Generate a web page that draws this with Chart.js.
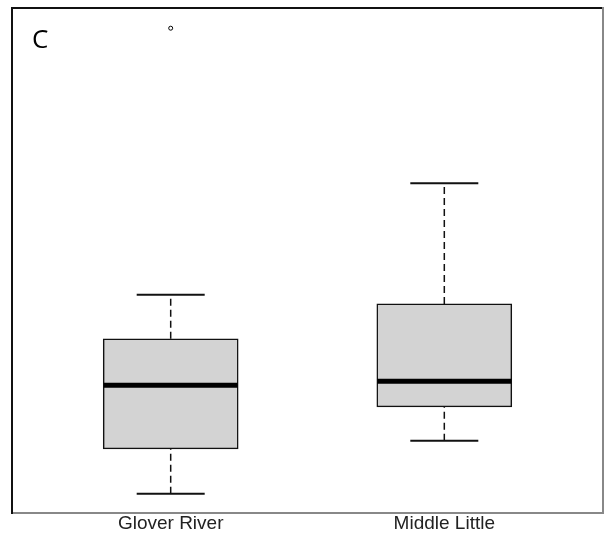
<!DOCTYPE html>
<html>
<head>
<meta charset="utf-8">
<script src="https://cdn.jsdelivr.net/npm/chart.js@4/dist/chart.umd.min.js"></script>
<style>
  html, body { margin: 0; padding: 0; background: #fff; }
  #wrap { width: 604px; height: 534px; }
</style>
</head>
<body>
<div id="wrap"><canvas id="chart"></canvas></div>
<script>
// boxplot stats (arbitrary units, axis labels are not legible)
const groups = ['Glover River', 'Middle Little'];
const positions = [1, 2];
const whiskerLow = [3.8, 14.3];
const q1 = [12.7, 21.0];
const median = [25.3, 26.1];
const q3 = [34.5, 41.4];
const whiskerHigh = [43.2, 65.3];
const outliers = [[96.0], []];

const panelLabel = 'C';

const datasets = [];

// medians (drawn on top)
datasets.push({
  type: 'scatter',
  data: positions.map((x, i) => ({ x, y: median[i] })),
  pointStyle: 'line',
  pointRadius: 67,
  borderColor: '#000',
  borderWidth: 5
});

// boxes
datasets.push({
  type: 'bar',
  data: positions.map((x, i) => ({ x, y: [q1[i], q3[i]] })),
  backgroundColor: '#d3d3d3',
  borderColor: '#111',
  borderWidth: 1.5,
  borderSkipped: false,
  barThickness: 135
});

// whisker caps
datasets.push({
  type: 'scatter',
  data: positions.flatMap((x, i) => [{ x, y: whiskerLow[i] }, { x, y: whiskerHigh[i] }]),
  pointStyle: 'line',
  pointRadius: 34,
  borderColor: '#111',
  borderWidth: 2
});

// dashed whiskers
positions.forEach((x, i) => {
  [[q3[i], whiskerHigh[i]], [whiskerLow[i], q1[i]]].forEach(([a, b]) => {
    datasets.push({
      type: 'line',
      data: [{ x, y: a }, { x, y: b }],
      borderColor: '#111',
      borderWidth: 1.5,
      borderDash: [7, 4],
      pointRadius: 0
    });
  });
});

// outliers
datasets.push({
  type: 'scatter',
  data: positions.flatMap((x, i) => outliers[i].map(y => ({ x, y }))),
  pointStyle: 'circle',
  pointRadius: 2,
  backgroundColor: '#fff',
  borderColor: '#000',
  borderWidth: 1
});

const panelLabelPlugin = {
  id: 'panelLabel',
  afterDraw(chart) {
    const { ctx, chartArea } = chart;
    ctx.save();
    ctx.font = '26px "Open Sans", sans-serif';
    ctx.fillStyle = '#000';
    ctx.textBaseline = 'alphabetic';
    ctx.fillText(panelLabel, chartArea.left + 20, chartArea.top + 40);
    ctx.restore();
  }
};

const noGrid = { display: false, drawTicks: false, tickLength: 0 };

new Chart(document.getElementById('chart'), {
  type: 'bar',
  data: { datasets },
  options: {
    responsive: true,
    maintainAspectRatio: false,
    animation: false,
    layout: { autoPadding: false, padding: { left: 12, top: 8, right: 1, bottom: 0 } },
    plugins: { legend: { display: false }, tooltip: { enabled: false } },
    scales: {
      x: {
        type: 'linear',
        offset: false,
        min: 0.42,
        max: 2.58,
        grid: noGrid,
        border: { display: true, color: '#888', width: 2 },
        afterBuildTicks(axis) { axis.ticks = positions.map(v => ({ value: v })); },
        ticks: {
          callback: (v) => groups[positions.indexOf(v)] ?? '',
          color: '#222',
          font: { family: '"Liberation Sans", Arial, sans-serif', size: 19, lineHeight: 1.0 },
          padding: 1,
          maxRotation: 0
        }
      },
      x2: {
        type: 'linear',
        position: 'top',
        offset: false,
        min: 0.42,
        max: 2.58,
        grid: noGrid,
        ticks: { display: false },
        border: { display: true, color: '#111', width: 2 }
      },
      y: {
        min: 0,
        max: 100,
        grid: noGrid,
        ticks: { display: false },
        border: { display: true, color: '#111', width: 2 }
      },
      y2: {
        position: 'right',
        min: 0,
        max: 100,
        grid: noGrid,
        ticks: { display: false },
        border: { display: true, color: '#888', width: 2 }
      }
    }
  },
  plugins: [panelLabelPlugin]
});
</script>
</body>
</html>
